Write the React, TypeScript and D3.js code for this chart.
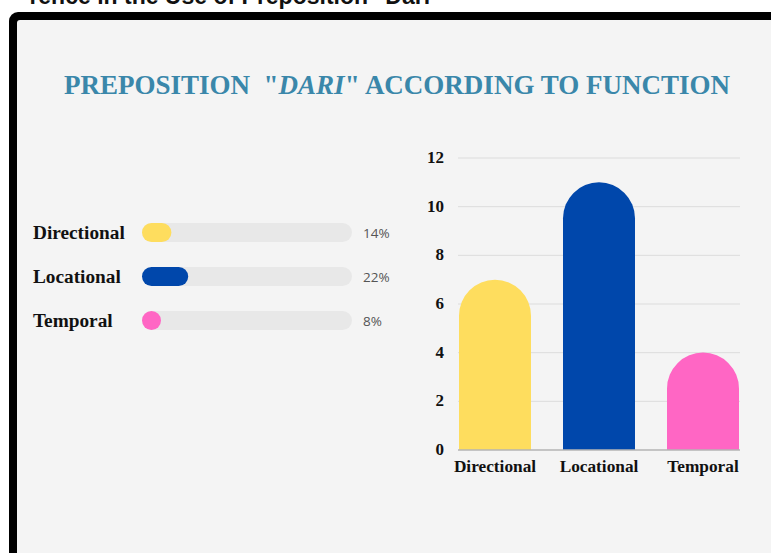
import React from "react";
import * as d3 from "d3";

const categories = ["Directional", "Locational", "Temporal"];
const counts = [7, 11, 4];
const percents = [14, 22, 8];
const colors = ["#FEDD5E", "#0047AB", "#FF66C4"];
const yTicks = [0, 2, 4, 6, 8, 10, 12];

const W = 771;
const H = 553;
const serif = "'Liberation Serif', 'Times New Roman', serif";

export default function App() {
  const x = d3.scaleBand<string>().domain(categories).range([459, 739]).paddingInner(0.3077).paddingOuter(0);
  const y = d3.scaleLinear().domain([0, 12]).range([450, 158]);
  const bw = x.bandwidth();
  const r = bw / 2;

  const trackX0 = 142;
  const trackW = 210;
  const trackH = 19;
  const rowY = d3.scalePoint<string>().domain(categories).range([232.5, 320.5]);
  const pctScale = d3.scaleLinear().domain([0, 100]).range([0, trackW]);

  const barPath = (cat: string, v: number) => {
    const x0 = x(cat)!;
    const y0 = y(0);
    const yt = y(v);
    const p = d3.path();
    p.moveTo(x0, y0);
    p.lineTo(x0, yt + r);
    p.arc(x0 + r, yt + r, r, Math.PI, 0, false);
    p.lineTo(x0 + bw, y0);
    p.closePath();
    return p.toString();
  };

  return (
    <svg width={W} height={H} style={{ position: "fixed", left: 0, top: 0, background: "#fff" }}>
      <text x={441} y={4} textAnchor="end" fontFamily="'Liberation Sans', Arial, sans-serif" fontWeight="bold" fontSize={23} fill="#111">
        rence in the Use of Preposition "Dari"
      </text>
      <rect x={9} y={12} width={820} height={600} rx={9} fill="#000" />
      <rect x={17} y={20} width={820} height={600} rx={3} fill="#f4f4f4" />

      <text x={397} y={94} textAnchor="middle" fontFamily={serif} fontWeight="bold" fontSize={27} fill="#3A87AA" xmlSpace="preserve">
        PREPOSITION  "<tspan fontStyle="italic">DARI</tspan>" ACCORDING TO FUNCTION
      </text>

      {categories.map((c, i) => {
        const cy = rowY(c)!;
        const fw = Math.max(trackH, pctScale(percents[i]));
        return (
          <g key={c}>
            <text x={33} y={cy + 6} fontFamily={serif} fontWeight="bold" fontSize={19.3} fill="#111">
              {c}
            </text>
            <rect x={trackX0} y={cy - trackH / 2} width={trackW} height={trackH} rx={trackH / 2} fill="#e8e8e8" />
            <rect x={trackX0} y={cy - trackH / 2} width={fw} height={trackH} rx={trackH / 2} fill={colors[i]} />
            <text x={363} y={cy + 5} fontFamily="'Open Sans', 'DejaVu Sans', sans-serif" fontSize={13.5} fill="#555">
              {percents[i]}%
            </text>
          </g>
        );
      })}

      {yTicks.map((t) => (
        <g key={t}>
          {t > 0 && <line x1={458} x2={740} y1={y(t)} y2={y(t)} stroke="#dcdcdc" strokeWidth={1} />}
          <text x={444} y={y(t) + 5} textAnchor="end" fontFamily={serif} fontWeight="bold" fontSize={17} fill="#111">
            {t}
          </text>
        </g>
      ))}

      {categories.map((c, i) => (
        <path key={c} d={barPath(c, counts[i])} fill={colors[i]} />
      ))}
      <line x1={458} x2={740} y1={y(0)} y2={y(0)} stroke="#b5b5b5" strokeWidth={1.5} />

      {categories.map((c) => (
        <text key={c} x={x(c)! + bw / 2} y={472} textAnchor="middle" fontFamily={serif} fontWeight="bold" fontSize={17.3} fill="#111">
          {c}
        </text>
      ))}
    </svg>
  );
}
